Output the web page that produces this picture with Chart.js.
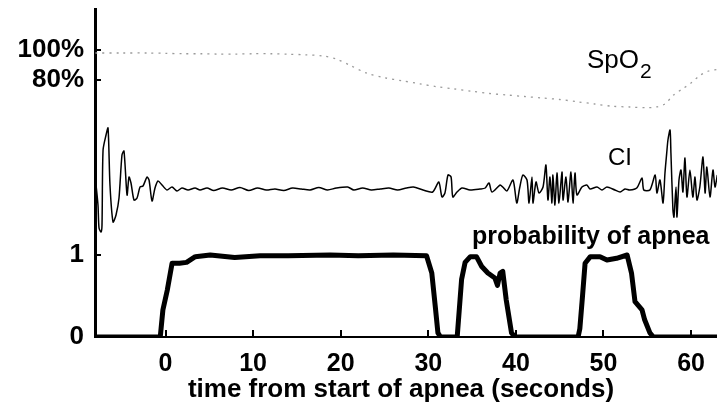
<!DOCTYPE html>
<html>
<head>
<meta charset="utf-8">
<script src="https://cdn.jsdelivr.net/npm/chart.js@4.4.1/dist/chart.umd.min.js"></script>
<style>
  html, body { margin: 0; padding: 0; background: #fff; }
  #wrap { width: 717px; height: 404px; }
</style>
</head>
<body>
<div id="wrap"><canvas id="c" width="717" height="404"></canvas></div>
<script>
// ---- data -------------------------------------------------------------
// time axis (seconds from start of apnea)
const xTicks = [0, 10, 20, 30, 40, 50, 60];

// oxygen saturation, %
const spo2Time = [-8, -5, -2, 0, 2, 4, 6, 8, 10, 12, 14, 16, 18, 19.5, 21, 23, 25, 27, 29, 31,
                  33, 35, 37, 39, 41, 43, 45, 47, 49, 51, 53, 55, 56, 57, 58, 59, 60, 61, 62, 63];
const spo2Values = [98, 98, 98, 97.8, 97.5, 97.5, 97.3, 97.3, 97.5, 97.5, 97.2, 96.8, 96, 94, 90, 84.5, 81.5, 79.5, 77.5, 75.5,
                    74, 72.5, 71, 70, 69, 68, 67, 65.5, 64, 62.5, 62, 61.5, 62, 64, 70, 74, 78, 83, 86, 87];

// cardiogenic impedance signal, deviation from baseline (arbitrary units)
const ciTime = [-7.93, -7.71, -7.59, -7.36, -7.25, -7.13, -6.79, -6.56, -6.34, -5.99,
                -5.65, -5.31, -4.97, -4.74, -4.39, -4.17, -3.94, -3.60, -3.25, -2.91,
                -2.57, -2.11, -1.88, -1.54, -1.20, -0.86, -0.40, 0.17, 0.74, 1.31,
                1.88, 2.57, 3.37, 3.94, 4.74, 5.5, 6.5, 7.5, 8.5, 9.5,
                10.5, 11.5, 12.5, 13.5, 14.5, 15.5, 16.5, 17.5, 18.5, 19.5,
                20.8, 21.5, 22.5, 23.5, 24.5, 25.5, 26.5, 27.5, 28.3, 29.4,
                30.5, 31.2, 31.56, 31.9, 32.25, 32.6, 32.8, 33.28, 33.85, 34.76,
                35.9, 36.5, 36.93, 37.27, 38.2, 38.5, 38.98, 39.67, 40.1, 40.45,
                40.8, 41.27, 41.5, 41.84, 41.95, 42.3, 42.64, 43.1, 43.43, 43.66,
                43.89, 44.12, 44.23, 44.46, 44.69, 44.92, 45.26, 45.38, 45.72, 45.95,
                46.29, 46.52, 46.75, 46.97, 47.54, 48.1, 48.46, 49.26, 49.83, 50.4,
                51.3, 51.9, 52.45, 53.0, 53.8, 54.4, 54.6, 55.3, 55.9, 56.1,
                56.45, 56.8, 57.02, 57.25, 57.36, 57.6, 57.7, 57.93, 58.05, 58.28,
                58.39, 58.62, 58.85, 59.07, 59.3, 59.53, 59.87, 60.2, 60.45, 60.67,
                61.0, 61.36, 61.6, 61.8, 62.16, 62.5, 62.73, 63.0];
const ciValues = [0.4, -1.6, -3.9, -4.3, -3.6, 3.9, 5.4, 6.1, 0.4, -3.3,
                  -2.6, -0.9, 3.4, 3.8, -0.6, 1.2, 0.6, -1.1, -0.9, 0.2,
                  0.3, 1.2, 0.9, -1.2, 0.1, 0.8, 0.4, -0.1, 0.2, -0.2,
                  0.1, -0.1, 0.1, -0.1, 0.1, -0.15, 0.1, -0.1, 0.15, -0.15,
                  0.1, -0.1, 0.0, -0.15, 0.1, 0.0, -0.1, 0.15, -0.1, 0.1,
                  0.2, -0.1, 0.1, -0.1, 0.0, 0.1, -0.1, 0.1, 0.2, -0.1,
                  -0.3, 0.7, -0.8, -0.4, 1.4, 1.2, -0.8, -0.3, 0.1, -0.1,
                  0.0, 0.1, 0.6, -0.3, 0.4, 0.2, -0.2, 0.9, -1.4, 0.2,
                  1.4, 0.9, -1.4, 1.2, -1.4, 0.7, -0.4, 0.2, 2.4, -1.1,
                  1.2, -1.4, 1.4, -1.6, 1.6, -1.4, 1.7, -1.1, 1.2, -1.3,
                  1.7, -1.4, 1.6, -0.6, 0.2, 0.4, 0.0, 0.2, -0.1, 0.2,
                  -0.1, -0.3, 0.0, -0.1, 0.1, 1.1, -0.1, -0.1, 1.4, -0.4,
                  0.9, -1.4, 1.6, 3.9, 4.9, 5.9, 3.6, -2.1, -2.8, 0.2,
                  -2.8, 0.9, 1.9, -0.3, 3.1, -0.8, 1.9, -0.8, 1.2, -1.1,
                  0.2, 3.2, -0.4, 2.2, -0.8, 1.9, 0.2, 1.4];

// detector output: probability of apnea (0..1)
const probTime = [-8.05, -0.6, -0.3, 0.2, 0.75, 1.6, 2.4, 3.4, 5.1, 7.9,
                  10.8, 14, 18.8, 22, 26, 29.8, 30.4, 30.8, 31.1, 31.4,
                  33.3, 33.8, 34.2, 34.8, 35.5, 36.1, 36.8, 37.6, 37.9, 38.2,
                  38.5, 38.9, 39.5, 39.9, 47.1, 47.3, 47.6, 47.9, 48.5, 49.6,
                  50.4, 51.5, 52.7, 53.2, 53.6, 54.4, 54.7, 55.3, 55.7, 63];
const probValues = [0, 0, 0.33, 0.57, 0.9, 0.9, 0.91, 0.98, 1.0, 0.97,
                    0.99, 0.99, 1.0, 0.99, 1.0, 0.99, 0.78, 0.37, 0.05, 0,
                    0, 0.7, 0.91, 0.98, 0.98, 0.86, 0.78, 0.72, 0.63, 0.78,
                    0.8, 0.45, 0.05, 0, 0, 0.1, 0.49, 0.9, 0.98, 0.98,
                    0.94, 0.96, 1.0, 0.78, 0.43, 0.33, 0.21, 0.05, 0, 0];

// left axis marks: probability 0 and 1, saturation 80 % and 100 %
const probTicks = [0, 1];
const spo2Ticks = [80, 100];

// ---- scale ranges (stacked traces share one plotting area) -------------
const X_MIN = -8.05, X_MAX = 62.96;
const P_MIN = 0, P_MAX = 4;              // probability axis (visible)
const S_MIN = -91.33, S_MAX = 127.33;    // saturation axis (hidden)
const C_MIN = -14.8, C_MAX = 18.0;       // impedance axis (hidden)

const toPoints = (t, v) => t.map((tt, i) => ({ x: tt, y: v[i] }));

// saturation ticks expressed on the visible axis
const spo2OnProb = s => P_MIN + (s - S_MIN) / (S_MAX - S_MIN) * (P_MAX - P_MIN);
const yTickValues = [...probTicks, ...spo2Ticks.map(spo2OnProb)];
const yTickLabels = [...probTicks.map(String), ...spo2Ticks.map(s => s + '%')];

const FONT = '"Liberation Sans", Arial, Helvetica, sans-serif';

// inward tick marks and trace labels
const annotate = {
  id: 'annotate',
  afterDraw(chart) {
    const { ctx, chartArea: a, scales: { x, y } } = chart;
    ctx.save();
    ctx.strokeStyle = '#000';
    ctx.lineWidth = 2;
    xTicks.forEach(v => {
      const px = Math.round(x.getPixelForValue(v));
      ctx.beginPath(); ctx.moveTo(px, a.bottom); ctx.lineTo(px, a.bottom - 7); ctx.stroke();
    });
    yTickValues.forEach(v => {
      const py = Math.round(y.getPixelForValue(v));
      ctx.beginPath(); ctx.moveTo(a.left, py); ctx.lineTo(a.left + 6, py); ctx.stroke();
    });

    ctx.fillStyle = '#000';
    ctx.textBaseline = 'alphabetic';
    ctx.textAlign = 'left';
    ctx.font = '26px ' + FONT;
    ctx.fillText('SpO', 587, 68);
    const w = ctx.measureText('SpO').width;
    ctx.font = '21px ' + FONT;
    ctx.fillText('2', 587 + w + 1, 78);

    ctx.font = '24px ' + FONT;
    ctx.fillText('CI', 608, 165);

    ctx.font = 'bold 25px ' + FONT;
    ctx.fillText('probability of apnea', 472, 244);

    ctx.textAlign = 'center';
    ctx.font = 'bold 26px ' + FONT;
    ctx.fillText('time from start of apnea (seconds)', 401, 397);
    ctx.restore();
  }
};

const noPad = s => { s.paddingTop = 0; s.paddingBottom = 0; s.paddingLeft = 0; s.paddingRight = 0; };

new Chart(document.getElementById('c'), {
  type: 'line',
  data: {
    datasets: [
      {
        label: 'SpO2',
        data: toPoints(spo2Time, spo2Values),
        yAxisID: 'yS',
        borderColor: '#9a9a9a',
        borderWidth: 1.3,
        borderDash: [2, 5],
        pointRadius: 0,
        tension: 0.3
      },
      {
        label: 'CI',
        data: toPoints(ciTime, ciValues),
        yAxisID: 'yC',
        borderColor: '#000',
        borderWidth: 1.5,
        pointRadius: 0,
        tension: 0.25
      },
      {
        label: 'probability of apnea',
        data: toPoints(probTime, probValues),
        yAxisID: 'y',
        borderColor: '#000',
        borderWidth: 5,
        pointRadius: 0,
        tension: 0,
        borderJoinStyle: 'round',
        borderCapStyle: 'round'
      }
    ]
  },
  options: {
    responsive: false,
    animation: false,
    devicePixelRatio: 1,
    layout: { padding: { top: 9, left: 0, right: 0, bottom: 0 } },
    plugins: { legend: { display: false }, tooltip: { enabled: false } },
    scales: {
      x: {
        type: 'linear',
        min: X_MIN, max: X_MAX,
        afterBuildTicks: s => { s.ticks = xTicks.map(v => ({ value: v })); },
        afterFit: s => { s.height = 67; noPad(s); },
        grid: { display: false, drawTicks: false },
        border: { display: true, color: '#000', width: 2 },
        ticks: { color: '#000', padding: 12, autoSkip: false, maxRotation: 0,
                 font: { family: FONT, size: 25, weight: 'bold' } }
      },
      y: {
        type: 'linear',
        position: 'left',
        min: P_MIN, max: P_MAX,
        afterBuildTicks: s => { s.ticks = yTickValues.map(v => ({ value: v })); },
        afterFit: s => { s.width = 95; noPad(s); },
        grid: { display: false, drawTicks: false },
        border: { display: true, color: '#000', width: 3 },
        ticks: { color: '#000', padding: 11, autoSkip: false,
                 font: { family: FONT, size: 26, weight: 'bold' },
                 callback: (v, i) => yTickLabels[i] }
      },
      yS: { type: 'linear', display: false, min: S_MIN, max: S_MAX },
      yC: { type: 'linear', display: false, min: C_MIN, max: C_MAX }
    }
  },
  plugins: [annotate]
});
</script>
</body>
</html>
